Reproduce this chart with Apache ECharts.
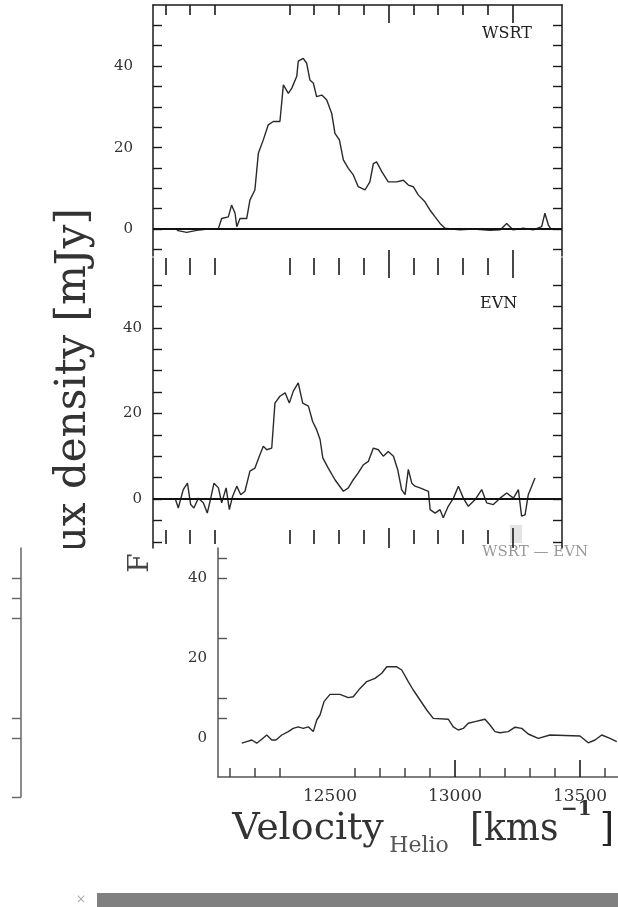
<!DOCTYPE html>
<html>
<head>
<meta charset="utf-8">
<script src="https://cdn.jsdelivr.net/npm/echarts@6.0.0/dist/echarts.min.js"></script>
<style>
html, body { margin: 0; padding: 0; background: #fff; }
#chart { width: 618px; height: 907px; }
</style>
</head>
<body>
<div id="chart"></div>
<script>
// WSRT spectrum (top panel)
const wsrtVel = [12146, 12186, 12226, 12272, 12313, 12327, 12354, 12367, 12381, 12388, 12401, 12428, 12441, 12461, 12475, 12495,
  12515, 12535, 12562, 12576, 12596, 12610, 12630, 12636, 12656, 12670, 12683, 12697, 12710, 12731, 12751, 12771, 12784, 12802,
  12818, 12838, 12858, 12878, 12905, 12925, 12939, 12952, 12973, 12999, 13033, 13060, 13080, 13100, 13120, 13147, 13167, 13188,
  13208, 13228, 13288, 13342, 13409, 13450, 13477, 13503, 13544, 13584, 13618, 13631, 13645, 13658]
const wsrtFlux = [-0.3, -0.8, -0.3, 0, 0, 2.6, 3.0, 5.9, 3.9, 0.6, 2.6, 2.6, 7.1, 9.6, 18.6, 21.9,
  25.6, 26.4, 26.4, 35.4, 33.3, 34.6, 37.5, 41.2, 41.9, 40.7, 36.6, 35.8, 32.5, 32.9, 31.7, 28.4, 23.5, 21.9,
  17.0, 14.9, 13.3, 10.4, 9.6, 11.6, 16.1, 16.5, 14.1, 11.6, 11.6, 12.0, 10.8, 10.4, 8.4, 6.7, 4.7, 3.0,
  1.4, 0.2, -0.2, 0, -0.3, -0.2, 1.4, -0.2, 0.2, -0.2, 0.6, 3.9, 1.0, -0.2]

// EVN spectrum (middle panel)
const evnVel = [12139, 12152, 12172, 12189, 12202, 12215, 12233, 12253, 12269, 12283, 12296, 12314, 12327, 12345, 12358, 12371,
  12388, 12404, 12421, 12441, 12461, 12479, 12495, 12509, 12529, 12542, 12562, 12583, 12600, 12616, 12636, 12654, 12677, 12694,
  12710, 12724, 12735, 12757, 12784, 12818, 12838, 12858, 12878, 12899, 12919, 12939, 12959, 12979, 12999, 13020, 13037, 13053,
  13067, 13080, 13094, 13107, 13127, 13161, 13168, 13188, 13208, 13221, 13241, 13262, 13282, 13302, 13322, 13349, 13376, 13396,
  13423, 13450, 13477, 13504, 13524, 13537, 13551, 13564, 13591]
const evnFlux = [0.2, -2.1, 2.2, 3.7, -1.3, -2.1, 0.2, -0.9, -3.3, 0.2, 3.7, 2.6, -0.9, 2.6, -2.5, 0.6,
  3.0, 1.0, 1.8, 6.5, 7.2, 10.0, 12.3, 11.5, 11.9, 22.4, 24.0, 24.8, 22.4, 25.2, 27.1, 22.4, 21.7, 18.1,
  16.2, 13.9, 9.6, 7.2, 4.5, 1.8, 2.6, 4.5, 6.1, 8.0, 8.8, 11.9, 11.5, 10.0, 11.1, 10.0, 6.9, 2.2,
  1.0, 6.9, 3.7, 3.0, 2.6, 1.8, -2.5, -3.3, -2.5, -4.4, -1.7, 0.2, 3.0, 0.2, -1.7, -0.2, 2.2, -0.9,
  -1.3, 0.2, 1.4, 0.2, 2.2, -4.0, -3.7, 1.0, 4.9]

// WSRT - EVN (bottom panel)
const diffVel = [12147, 12167, 12187, 12207, 12227, 12247, 12267, 12284, 12307, 12333, 12353, 12373, 12393, 12413, 12433, 12447,
  12460, 12476, 12500, 12540, 12573, 12593, 12620, 12647, 12680, 12707, 12727, 12767, 12787, 12813, 12833, 12860, 12887, 12913,
  12973, 12993, 13013, 13033, 13053, 13080, 13120, 13140, 13160, 13180, 13213, 13240, 13267, 13293, 13333, 13380, 13500, 13533,
  13560, 13587, 13620, 13647]
const diffFlux = [-1.3, -0.9, -0.5, -1.3, -0.3, 0.75, -0.5, -0.5, 0.75, 1.6, 2.4, 2.8, 2.4, 2.8, 1.6, 4.5,
  5.75, 9.1, 10.9, 10.9, 10.1, 10.3, 12.4, 14.1, 14.9, 16.2, 17.8, 17.8, 17.0, 14.1, 12.0, 9.5, 7.0, 4.9,
  4.7, 2.8, 2.0, 2.4, 3.7, 4.1, 4.7, 3.25, 1.6, 1.3, 1.6, 2.7, 2.4, 1.0, -0.1, 0.75, 0.5, -1.2,
  -0.5, 0.75, -0.1, -0.9]

// ticks and labels
const velMinorTicks = [12100, 12200, 12300, 12600, 12700, 12800, 12900, 13100, 13200, 13300, 13400]
const velMajorTicks = [13000, 13500]
const velMinorTicks3 = [12100, 12200, 12300, 12600, 12700, 12800, 12900, 13100, 13200, 13300, 13400, 13600]
const velLabels = [12500, 13000, 13500]
const fluxTicks1 = [-5, 0, 5, 10, 15, 20, 25, 30, 35, 40, 45, 50]
const fluxTicks2 = [-10, -5, 0, 5, 10, 15, 20, 25, 30, 35, 40, 45, 50]
const fluxTicks3 = [5, 10, 25, 40, 45]
const stripTicks = [-14.75, 0, 5, 30, 35, 40]
const fluxLabels = [0, 20, 40]

const SERIF = '"DejaVu Serif", "Liberation Serif", serif'

function pairs(xs, ys) {
  return xs.map((x, i) => [x, ys[i]])
}

// x axis that only draws tick marks
function xTicks(grid, pos, min, max, values, len, offset, line) {
  return {
    type: 'value', gridIndex: grid, position: pos, min: min, max: max, offset: offset || 0,
    axisLine: { show: !!line, onZero: false, lineStyle: { color: '#1a1a1a', width: 1.5 } },
    splitLine: { show: false },
    axisLabel: { show: false },
    axisTick: { show: values.length > 0, inside: true, length: len, customValues: values, lineStyle: { color: '#1a1a1a', width: 1.6 } }
  }
}

function yFrame(grid, pos, min, max, ticks, labels, margin, color) {
  return {
    type: 'value', gridIndex: grid, position: pos, min: min, max: max,
    axisLine: { show: true, onZero: false, lineStyle: { color: color || '#1a1a1a', width: 1.5 } },
    splitLine: { show: false },
    axisTick: { show: true, inside: true, length: 9, customValues: ticks, lineStyle: { color: color || '#1a1a1a', width: 1.4 } },
    axisLabel: labels ? { show: true, customValues: labels, margin: margin, color: '#333', fontFamily: SERIF, fontSize: 15 } : { show: false }
  }
}

const zeroLine = {
  silent: true, symbol: ['none', 'none'], label: { show: false },
  lineStyle: { color: '#111', width: 2.2, type: 'solid' },
  data: [{ yAxis: 0 }]
}

const chart = echarts.init(document.getElementById('chart'))

chart.setOption({
  animation: false,
  backgroundColor: '#fff',
  grid: [
    { left: 153, top: 5, width: 409, height: 251 },
    { left: 153, top: 258, width: 409, height: 290 },
    { left: 218, top: 548, width: 400, height: 229 },
    { left: 21, top: 548, width: 10, height: 249 }
  ],
  xAxis: [
    xTicks(0, 'bottom', 12050, 13700, [], 0),
    xTicks(0, 'top', 12050, 13700, velMinorTicks, 10, 0, true),
    xTicks(0, 'top', 12050, 13700, velMajorTicks, 18),
    xTicks(1, 'bottom', 12050, 13700, [], 0),
    xTicks(1, 'top', 12050, 13700, velMinorTicks, 17),
    xTicks(1, 'top', 12050, 13700, velMajorTicks, 28, 8),
    xTicks(1, 'bottom', 12050, 13700, velMinorTicks, 14, -4),
    xTicks(1, 'bottom', 12050, 13700, velMajorTicks, 20),
    {
      type: 'value', gridIndex: 2, position: 'bottom', min: 12052, max: 13652,
      axisLine: { show: true, onZero: false, lineStyle: { color: '#555', width: 1.5 } },
      splitLine: { show: false },
      axisTick: { show: true, inside: true, length: 9, customValues: velMinorTicks3, lineStyle: { color: '#444', width: 1.5 } },
      axisLabel: {
        show: true, customValues: velLabels, margin: 11, color: '#333', fontFamily: SERIF, fontSize: 17,
        formatter: v => String(v)
      }
    },
    xTicks(2, 'bottom', 12052, 13652, velMajorTicks, 17),
    { type: 'value', gridIndex: 3, show: false, min: 0, max: 1 }
  ],
  yAxis: [
    yFrame(0, 'left', -6.6, 55, fluxTicks1, fluxLabels, 20),
    yFrame(0, 'right', -6.6, 55, fluxTicks1, null),
    yFrame(1, 'left', -11.45, 56.3, fluxTicks2, fluxLabels, 11),
    yFrame(1, 'right', -11.45, 56.3, fluxTicks2, null),
    yFrame(2, 'left', -9.75, 47.5, fluxTicks3, fluxLabels, 11, '#555'),
    {
      type: 'value', gridIndex: 3, position: 'left', min: -14.75, max: 47.5,
      axisLine: { show: true, onZero: false, lineStyle: { color: '#666', width: 1.5 } },
      splitLine: { show: false },
      axisTick: { show: true, inside: false, length: 9, customValues: stripTicks, lineStyle: { color: '#666', width: 1.4 } },
      axisLabel: { show: false }
    }
  ],
  series: [
    {
      name: 'WSRT', type: 'line', xAxisIndex: 0, yAxisIndex: 0, data: pairs(wsrtVel, wsrtFlux),
      showSymbol: false, lineStyle: { color: '#2a2a2a', width: 1.4 }, markLine: zeroLine
    },
    {
      name: 'EVN', type: 'line', xAxisIndex: 3, yAxisIndex: 2, data: pairs(evnVel, evnFlux),
      showSymbol: false, lineStyle: { color: '#2a2a2a', width: 1.4 }, markLine: zeroLine
    },
    {
      name: 'WSRT - EVN', type: 'line', xAxisIndex: 8, yAxisIndex: 4, data: pairs(diffVel, diffFlux),
      showSymbol: false, lineStyle: { color: '#2a2a2a', width: 1.4 }
    }
  ],
  graphic: [
    { type: 'text', left: 482, top: 26, style: { text: 'WSRT', font: '16px ' + SERIF, fill: '#222' } },
    { type: 'text', left: 480, top: 296, style: { text: 'EVN', font: '16px ' + SERIF, fill: '#222' } },
    { type: 'text', left: 482, top: 545, style: { text: 'WSRT \u2014 EVN', font: '15px ' + SERIF, fill: '#999' } },
    // y-axis title, lower part lost in the scan
    {
      type: 'text', x: 74, y: 402, rotation: Math.PI / 2, z: 10,
      style: { text: 'Flux density [mJy]', font: '42px ' + SERIF, fill: '#333', align: 'center', verticalAlign: 'middle' }
    },
    { type: 'rect', shape: { x: 45, y: 548, width: 60, height: 52 }, style: { fill: '#fff' }, z: 20 },
    {
      type: 'text', x: 141, y: 563, rotation: Math.PI / 2, z: 10,
      style: { text: 'F', font: '28px ' + SERIF, fill: '#444', align: 'center', verticalAlign: 'middle' }
    },
    // x-axis title
    {
      type: 'text', x: 308, y: 829,
      style: { text: 'Velocity', font: '38px ' + SERIF, fill: '#333', align: 'center', verticalAlign: 'middle' }
    },
    {
      type: 'text', x: 419, y: 846,
      style: { text: 'Helio', font: '22px ' + SERIF, fill: '#555', align: 'center', verticalAlign: 'middle' }
    },
    {
      type: 'text', x: 470, y: 830, scaleY: 1.1,
      style: { text: '[kms', font: '36px ' + SERIF, fill: '#333', align: 'left', verticalAlign: 'middle' }
    },
    {
      type: 'text', x: 561, y: 810,
      style: { text: '\u22121', font: 'bold 20px ' + SERIF, fill: '#333', align: 'left', verticalAlign: 'middle' }
    },
    {
      type: 'text', x: 600, y: 830, scaleY: 1.1,
      style: { text: ']', font: '36px ' + SERIF, fill: '#222', align: 'left', verticalAlign: 'middle' }
    },
    // scan artefacts
    { type: 'rect', shape: { x: 510, y: 525, width: 12, height: 18 }, style: { fill: '#e4e4e4' } },
    { type: 'rect', shape: { x: 97, y: 893, width: 521, height: 14 }, style: { fill: '#808080' } },
    { type: 'text', x: 81, y: 900, style: { text: '\u00d7', font: '12px ' + SERIF, fill: '#aaa', align: 'center', verticalAlign: 'middle' } }
  ]
})
</script>
</body>
</html>
